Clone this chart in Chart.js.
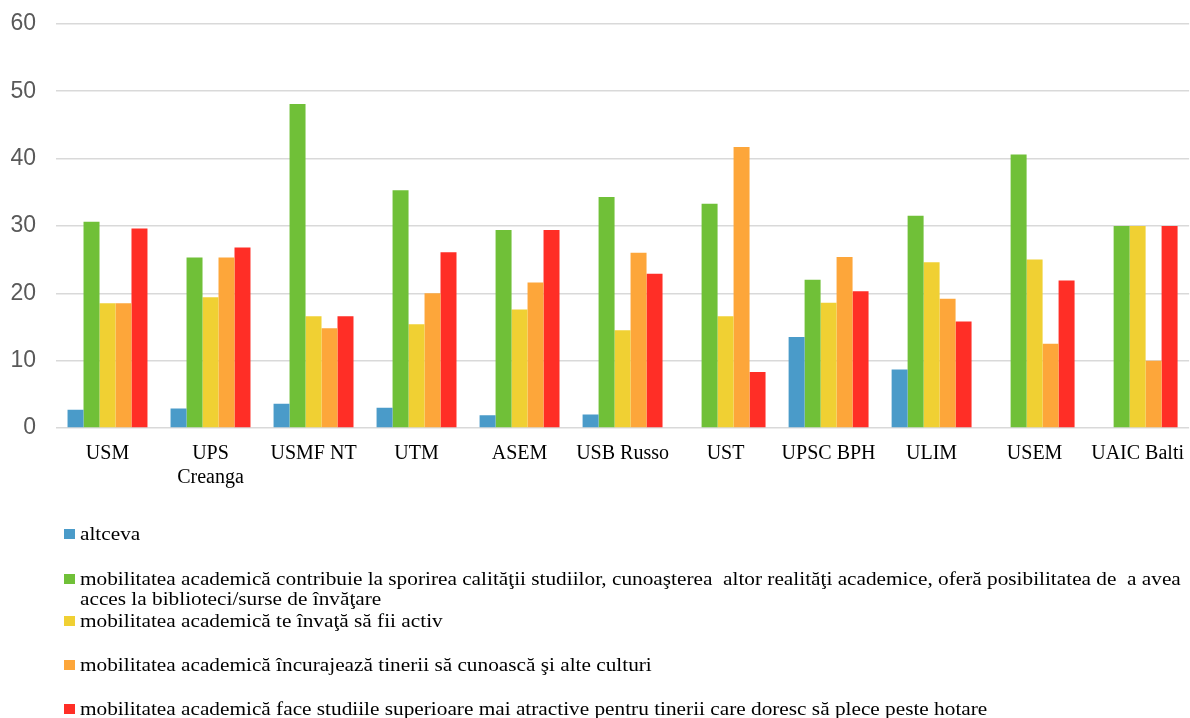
<!DOCTYPE html>
<html>
<head>
<meta charset="utf-8">
<script src="https://cdn.jsdelivr.net/npm/chart.js@4.4.1/dist/chart.umd.min.js"></script>
<style>
  html, body { margin: 0; padding: 0; background: #fff; }
  body { width: 1190px; height: 718px; position: relative; overflow: hidden; }
  #wrap { position: absolute; left: 0; top: -10px; width: 1190px; height: 510px; }
  #legend { position: absolute; left: 0; top: 0; width: 1190px; height: 718px; pointer-events: none; }
  .item { position: absolute; left: 64px; font-family: "Liberation Serif", "Times New Roman", serif; font-size: 18.5px; color: #000; }
  .mk { position: absolute; left: 0; width: 11px; height: 10px; }
  .tx { position: absolute; left: 16px; width: 1000px; line-height: 20px; transform: scaleX(1.15); transform-origin: 0 0; white-space: pre-wrap; }
</style>
</head>
<body>
<div id="wrap"><canvas id="c" width="1190" height="510"></canvas></div>
<div id="legend"></div>
<script>
const categories = ["USM", ["UPS", "Creanga"], "USMF NT", "UTM", "ASEM", "USB Russo", "UST", "UPSC BPH", "ULIM", "USEM", "UAIC Balti"];
const seriesLabels = [
  "altceva",
  "mobilitatea academică contribuie la sporirea calităţii studiilor, cunoaşterea  altor realităţi academice, oferă posibilitatea de  a avea acces la biblioteci/surse de învăţare",
  "mobilitatea academică te învaţă să fii activ",
  "mobilitatea academică încurajează tinerii să cunoască şi alte culturi",
  "mobilitatea academică face studiile superioare mai atractive pentru tinerii care doresc să plece peste hotare"
];
const altceva    = [2.7, 2.9, 3.6, 3.0, 1.9, 2.0, null, 13.5, 8.7, null, null];
const calitatea  = [30.6, 25.3, 48.1, 35.3, 29.4, 34.3, 33.3, 22.0, 31.5, 40.6, 30.0];
const activ      = [18.5, 19.4, 16.6, 15.4, 17.6, 14.5, 16.6, 18.6, 24.6, 25.0, 30.0];
const culturi    = [18.5, 25.3, 14.8, 20.0, 21.6, 26.0, 41.7, 25.4, 19.2, 12.5, 10.0];
const atractive  = [29.6, 26.8, 16.6, 26.1, 29.4, 22.9, 8.3, 20.3, 15.8, 21.9, 30.0];
const yTicks = [0, 10, 20, 30, 40, 50, 60];

const colors = ["#4A9BC9", "#70C038", "#F0D033", "#FDA63A", "#FF2E26"];
const seriesValues = [altceva, calitatea, activ, culturi, atractive];

const chart = new Chart(document.getElementById('c'), {
  type: 'bar',
  data: {
    labels: categories,
    datasets: seriesValues.map((v, i) => ({
      label: seriesLabels[i],
      data: v,
      backgroundColor: colors[i],
      borderWidth: 0,
      barPercentage: 1,
      categoryPercentage: 0.776
    }))
  },
  options: {
    responsive: false,
    animation: false,
    layout: { padding: { top: 12, left: 0, right: 0, bottom: 0 } },
    plugins: { legend: { display: false }, tooltip: { enabled: false } },
    scales: {
      x: {
        grid: { display: false },
        border: { display: false },
        ticks: {
          font: { family: "Liberation Serif", size: 20 },
          color: "#000",
          padding: 6,
          maxRotation: 0,
          autoSkip: false
        },
        afterFit: s => { s.height = 72; }
      },
      y: {
        min: 0, max: 60,
        afterBuildTicks: s => { s.ticks = yTicks.map(v => ({ value: v })); },
        grid: { color: "#D9D9D9", lineWidth: 1.5, drawTicks: false },
        border: { display: false },
        ticks: {
          font: { family: "Liberation Sans", size: 23 },
          color: "#595959",
          padding: 20
        },
        afterFit: s => { s.width = 56; }
      }
    }
  }
});

const legendBaselines = [540, 585, 627, 671, 715];
const lg = document.getElementById('legend');
seriesLabels.forEach((lab, i) => {
  const it = document.createElement('div');
  it.className = 'item';
  it.style.top = (legendBaselines[i] - 16) + 'px';
  const mk = document.createElement('div');
  mk.className = 'mk';
  mk.style.background = colors[i];
  mk.style.top = '5px';
  const tx = document.createElement('div');
  tx.className = 'tx';
  tx.textContent = lab;
  it.appendChild(mk);
  it.appendChild(tx);
  lg.appendChild(it);
});
</script>
</body>
</html>
